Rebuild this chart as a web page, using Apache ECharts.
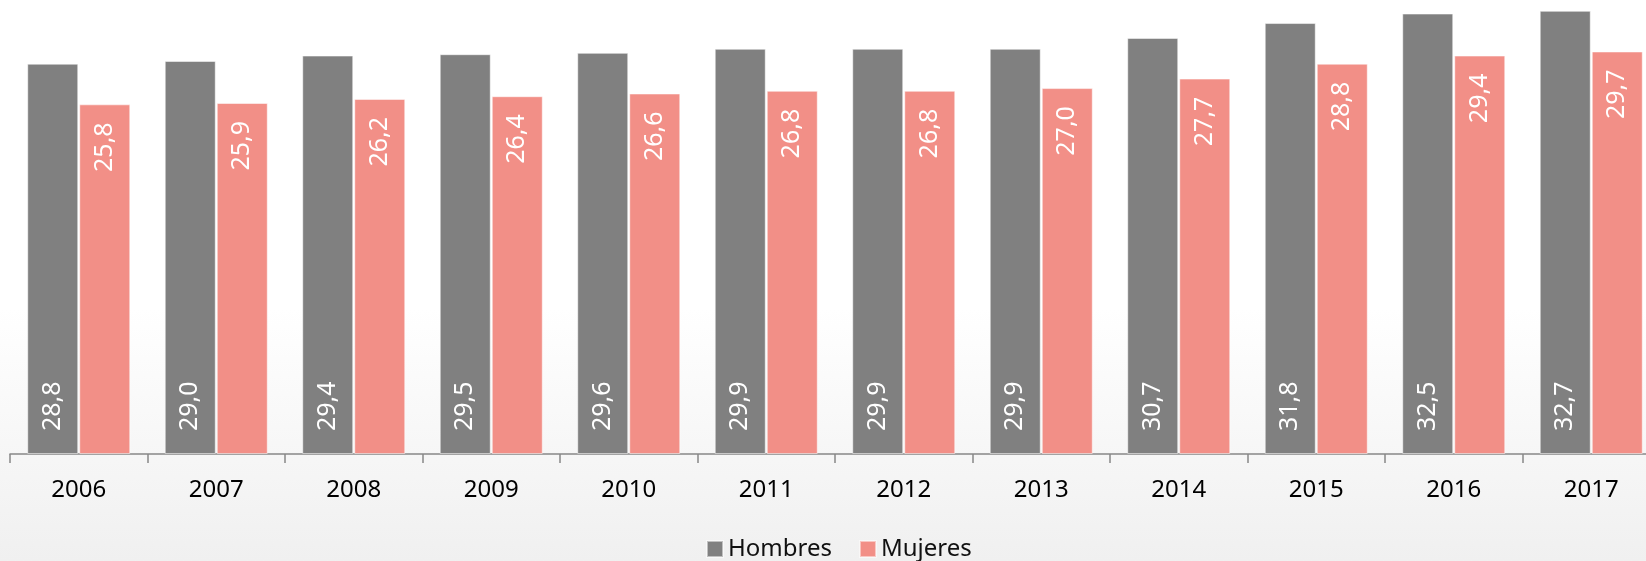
<!DOCTYPE html>
<html>
<head>
<meta charset="utf-8">
<script src="https://cdn.jsdelivr.net/npm/echarts@6/dist/echarts.min.js"></script>
<style>
  html, body { margin: 0; padding: 0; }
  #main { width: 1646px; height: 561px; }
</style>
</head>
<body>
<div id="main"></div>
<script>
var years = ['2006', '2007', '2008', '2009', '2010', '2011', '2012', '2013', '2014', '2015', '2016', '2017'];
var hombres = [28.8, 29.0, 29.4, 29.5, 29.6, 29.9, 29.9, 29.9, 30.7, 31.8, 32.5, 32.7];
var mujeres = [25.8, 25.9, 26.2, 26.4, 26.6, 26.8, 26.8, 27.0, 27.7, 28.8, 29.4, 29.7];

var myChart = echarts.init(document.getElementById('main'));

var fmt = function (p) {
    return p.value.toFixed(1).replace('.', ',');
};

var option = {
    backgroundColor: {
        type: 'linear', x: 0, y: 0, x2: 0, y2: 1,
        colorStops: [
            { offset: 0, color: '#ffffff' },
            { offset: 0.55, color: '#ffffff' },
            { offset: 1, color: '#f0f0f0' }
        ]
    },
    textStyle: { fontFamily: 'Noto Sans' },
    legend: {
        bottom: -5,
        left: 701,
        itemWidth: 16,
        itemHeight: 16,
        itemGap: 27,
        icon: 'rect',
        textStyle: { fontSize: 24, color: '#111' },
        data: ['Hombres', 'Mujeres']
    },
    grid: {
        left: 10,
        right: -14,
        top: 0,
        bottom: 107,
        outerBoundsMode: 'none'
    },
    xAxis: {
        type: 'category',
        data: years,
        axisLine: { lineStyle: { color: '#888', width: 1.5 } },
        axisTick: { show: true, length: 9, lineStyle: { color: '#888', width: 1.5 } },
        axisLabel: { fontSize: 24, color: '#000', margin: 24 }
    },
    yAxis: {
        type: 'value',
        show: false,
        min: 0,
        max: 33.5,
        splitLine: { show: false }
    },
    series: [
        {
            name: 'Hombres',
            type: 'bar',
            data: hombres,
            barWidth: 51,
            barGap: '2%',
            itemStyle: { color: '#808080', borderColor: 'rgba(255,255,255,0.5)', borderWidth: 1 },
            label: {
                show: true,
                position: 'insideBottom',
                rotate: 90,
                align: 'left',
                verticalAlign: 'middle',
                distance: 23,
                color: '#fff',
                fontSize: 25,
                formatter: fmt
            }
        },
        {
            name: 'Mujeres',
            type: 'bar',
            data: mujeres,
            barWidth: 51,
            itemStyle: { color: '#F28F87', borderColor: 'rgba(255,255,255,0.5)', borderWidth: 1 },
            label: {
                show: true,
                position: 'insideTop',
                rotate: 90,
                align: 'right',
                verticalAlign: 'middle',
                distance: 18,
                color: '#fff',
                fontSize: 25,
                formatter: fmt
            }
        }
    ]
};

myChart.setOption(option);
</script>
</body>
</html>
